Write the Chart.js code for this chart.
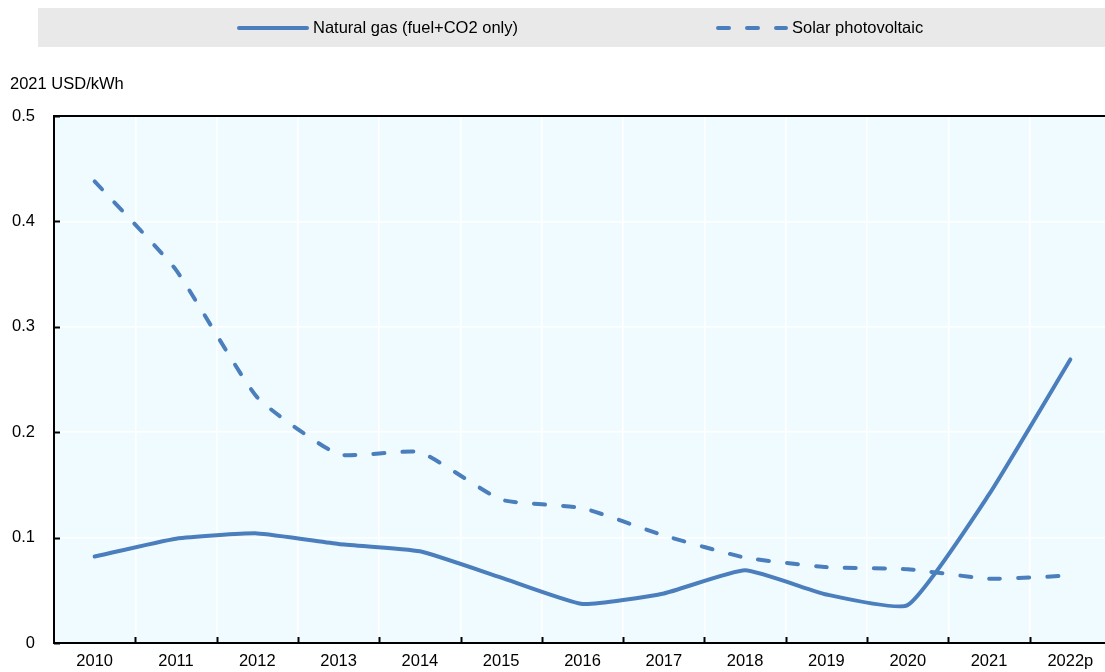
<!DOCTYPE html>
<html>
<head>
<meta charset="utf-8">
<script src="https://cdn.jsdelivr.net/npm/chart.js@4"></script>
<style>
  body { margin: 0; overflow: hidden; background: #fff; }
  #wrap { position: absolute; left: 0; top: 0; width: 1111px; height: 672px; }
</style>
</head>
<body>
<div id="wrap"><canvas id="chart"></canvas></div>
<script>
// values
const years = ['2010', '2011', '2012', '2013', '2014', '2015', '2016', '2017', '2018', '2019', '2020', '2021', '2022p'];
const gasCost = [0.082, 0.099, 0.104, 0.094, 0.087, 0.062, 0.037, 0.047, 0.069, 0.046, 0.036, 0.141, 0.269];
const solarCost = [0.438, 0.354, 0.233, 0.179, 0.181, 0.136, 0.128, 0.102, 0.081, 0.072, 0.070, 0.061, 0.064];
const seriesNames = ['Natural gas (fuel+CO2 only)', 'Solar photovoltaic'];
const yTicks = [0, 0.1, 0.2, 0.3, 0.4, 0.5];

const blue = '#4a7ebd';
const font = 'Liberation Sans, Arial, sans-serif';
const fontSize = 16.5;
const dash = [11, 18];

const decor = {
  id: 'decor',
  beforeDraw(chart) {
    const ctx = chart.ctx, a = chart.chartArea;
    ctx.save();
    ctx.fillStyle = '#fff';
    ctx.fillRect(0, 0, chart.width, chart.height);
    ctx.fillStyle = '#e9e9e9';
    ctx.fillRect(38, 8, 1105 - 38, 39);
    ctx.fillStyle = '#f0fbff';
    ctx.fillRect(a.left, a.top, a.right - a.left, a.bottom - a.top);
    ctx.restore();
  },
  afterDraw(chart) {
    const ctx = chart.ctx, a = chart.chartArea, y = chart.scales.y, x = chart.scales.x;
    ctx.save();
    ctx.strokeStyle = '#000';
    ctx.lineWidth = 2;
    // top frame line
    ctx.beginPath();
    ctx.moveTo(a.left, a.top);
    ctx.lineTo(a.right, a.top);
    ctx.stroke();
    // inner ticks on the value axis
    yTicks.forEach(v => {
      const py = Math.round(y.getPixelForValue(v)) + 0.5;
      ctx.beginPath();
      ctx.moveTo(a.left, py);
      ctx.lineTo(a.left + 6, py);
      ctx.stroke();
    });
    // inner ticks between categories
    for (let i = 1; i < years.length; i++) {
      const px = Math.round((x.getPixelForValue(i - 1) + x.getPixelForValue(i)) / 2) + 0.5;
      ctx.beginPath();
      ctx.moveTo(px, a.bottom);
      ctx.lineTo(px, a.bottom - 6);
      ctx.stroke();
    }
    // unit label
    ctx.fillStyle = '#000';
    ctx.font = fontSize + 'px ' + font;
    ctx.textBaseline = 'middle';
    ctx.textAlign = 'left';
    ctx.fillText('2021 USD/kWh', 10, 84);
    // legend
    const items = [{ x: 237, d: [] }, { x: 716, d: dash }];
    items.forEach((it, i) => {
      ctx.strokeStyle = blue;
      ctx.lineWidth = 4;
      ctx.lineCap = 'round';
      ctx.setLineDash(it.d);
      ctx.beginPath();
      ctx.moveTo(it.x + 2, 28);
      ctx.lineTo(it.x + 70, 28);
      ctx.stroke();
      ctx.setLineDash([]);
      ctx.fillStyle = '#000';
      ctx.fillText(chart.data.datasets[i].label, it.x + 76, 28);
    });
    ctx.restore();
  }
};

new Chart(document.getElementById('chart'), {
  type: 'line',
  data: {
    labels: years,
    datasets: [{
      label: seriesNames[0],
      data: gasCost,
      borderColor: blue,
      borderWidth: 4,
      borderCapStyle: 'round',
      borderJoinStyle: 'round',
      tension: 0.15,
      pointRadius: 0
    }, {
      label: seriesNames[1],
      data: solarCost,
      borderColor: blue,
      borderWidth: 4,
      borderDash: dash,
      borderCapStyle: 'round',
      borderJoinStyle: 'round',
      tension: 0.15,
      pointRadius: 0
    }]
  },
  options: {
    responsive: true,
    maintainAspectRatio: false,
    animation: false,
    layout: { padding: { top: 116, right: 0, left: 0, bottom: 0 } },
    plugins: { legend: { display: false }, tooltip: { enabled: false } },
    scales: {
      x: {
        offset: true,
        afterFit(s) { s.height = 29; },
        grid: { offset: true, color: '#ffffff', lineWidth: 1.5, drawTicks: false },
        border: { color: '#000', width: 2 },
        ticks: { color: '#000', font: { family: font, size: fontSize }, padding: 9, maxRotation: 0, autoSkip: false }
      },
      y: {
        min: 0,
        max: 0.5,
        afterFit(s) { s.width = 54; },
        afterBuildTicks(s) { s.ticks = yTicks.map(v => ({ value: v })); },
        grid: { color: '#ffffff', lineWidth: 1.5, drawTicks: false },
        border: { color: '#000', width: 2 },
        ticks: { color: '#000', font: { family: font, size: fontSize }, padding: 19, callback: v => String(v) }
      }
    }
  },
  plugins: [decor]
});
</script>
</body>
</html>
